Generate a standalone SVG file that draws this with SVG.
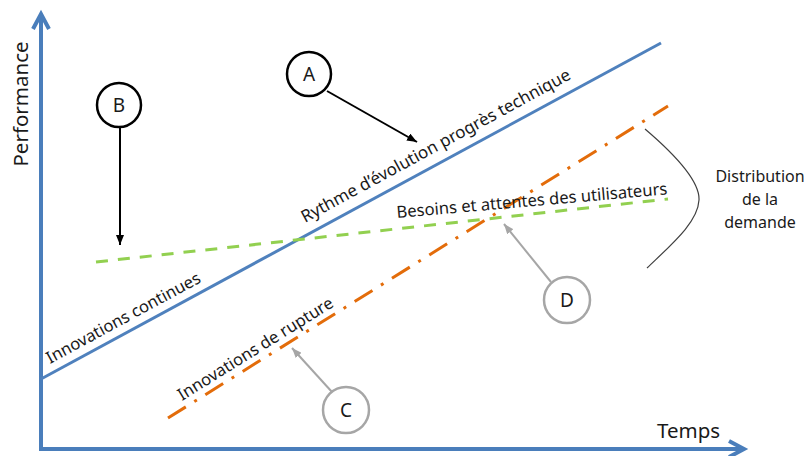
<svg xmlns="http://www.w3.org/2000/svg" width="806" height="456" viewBox="0 0 806 456">
  <style>
    text { font-family: "Noto Sans", "Open Sans", "Liberation Sans", sans-serif; fill: #1a1a1a; }
    .axis { stroke: #4a7ebb; stroke-width: 4; fill: none; }
    .tech { stroke: #4f81bd; stroke-width: 3; fill: none; }
    .needs { stroke: #92d050; stroke-width: 3; fill: none; stroke-dasharray: 12 10; }
    .rupt { stroke: #e36c0a; stroke-width: 3; fill: none; stroke-dasharray: 21 10 3 10; }
    .cblack { fill: #fff; stroke: #000; stroke-width: 2.5; }
    .cgray { fill: #fff; stroke: #a6a6a6; stroke-width: 2.5; }
    .lbl { font-size: 16.6px; }
    .big { font-size: 17px; }
    .dist { font-size: 16px; text-anchor: middle; }
    .node-txt { font-size: 19px; text-anchor: middle; }
    .ax-txt { font-size: 20.5px; }
  </style>
  <defs>
    <marker id="ahBlack" markerUnits="userSpaceOnUse" markerWidth="10" markerHeight="8" refX="10" refY="4" orient="auto">
      <path d="M0,0 L10,4 L0,8 z" fill="#000"/>
    </marker>
    <marker id="ahGray" markerUnits="userSpaceOnUse" markerWidth="10" markerHeight="8" refX="10" refY="4" orient="auto">
      <path d="M0,0 L10,4 L0,8 z" fill="#a6a6a6"/>
    </marker>
  </defs>

  <rect width="806" height="456" fill="#fff"/>

  <g id="axes">
    <line class="axis" x1="41" y1="451" x2="41" y2="15"/>
    <polyline class="axis" points="33,29 41,14 49,29"/>
    <line class="axis" x1="39" y1="449" x2="743" y2="449"/>
    <polyline class="axis" points="729,441 744,449 729,457"/>
    <text class="ax-txt" transform="translate(28,104) rotate(-90)" text-anchor="middle">Performance</text>
    <text class="ax-txt" x="657" y="438">Temps</text>
  </g>

  <g id="series">
    <line class="tech" x1="41" y1="379" x2="661" y2="43"/>
    <line class="needs" x1="96" y1="262" x2="668" y2="199"/>
    <line class="rupt" x1="168" y1="418" x2="668" y2="106"/>
    <path d="M645,129 C672,152 700,180 699,200 C698,222 672,244 647,268" fill="none" stroke="#404040" stroke-width="1.2"/>
  </g>

  <g id="series-labels">
    <text class="big" transform="translate(305,223) rotate(-28.45)">Rythme d’évolution progrès technique</text>
    <text class="lbl" transform="translate(50,364) rotate(-28.45)">Innovations continues</text>
    <text class="lbl" transform="translate(397,218) rotate(-5)">Besoins et attentes des utilisateurs</text>
    <text class="lbl" transform="translate(182,401) rotate(-31.9)">Innovations de rupture</text>
    <text class="dist" x="760" y="182">Distribution</text>
    <text class="dist" x="760" y="205">de la</text>
    <text class="dist" x="760" y="228">demande</text>
  </g>

  <g id="connectors">
    <line x1="327" y1="91" x2="417" y2="142" stroke="#000" stroke-width="2" marker-end="url(#ahBlack)"/>
    <line x1="120" y1="128" x2="120" y2="245" stroke="#000" stroke-width="2" marker-end="url(#ahBlack)"/>
    <line x1="332" y1="392" x2="292" y2="348" stroke="#a6a6a6" stroke-width="2" marker-end="url(#ahGray)"/>
    <line x1="551" y1="282" x2="504" y2="224" stroke="#a6a6a6" stroke-width="2" marker-end="url(#ahGray)"/>
  </g>

  <g id="nodeA">
    <circle class="cblack" cx="309" cy="74" r="22"/>
    <text class="node-txt" x="309" y="81">A</text>
  </g>
  <g id="nodeB">
    <circle class="cblack" cx="119" cy="105" r="22"/>
    <text class="node-txt" x="119" y="112">B</text>
  </g>
  <g id="nodeC">
    <circle class="cgray" cx="346" cy="410" r="23"/>
    <text class="node-txt" x="346" y="417">C</text>
  </g>
  <g id="nodeD">
    <circle class="cgray" cx="567" cy="300" r="23"/>
    <text class="node-txt" x="567" y="307">D</text>
  </g>
</svg>
